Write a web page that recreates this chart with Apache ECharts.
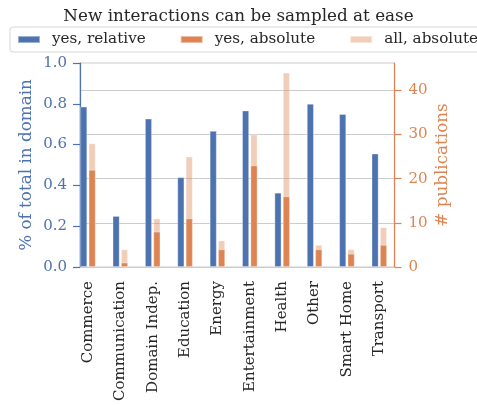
<!DOCTYPE html>
<html>
<head>
<meta charset="utf-8">
<script src="https://cdn.jsdelivr.net/npm/echarts@6/dist/echarts.min.js"></script>
<style>
  html, body { margin: 0; padding: 0; background: #ffffff; }
  #chart { width: 477px; height: 405px; }
</style>
</head>
<body>
<div id="chart"></div>
<script>
// Application domains on the x axis
const categories = ['Commerce', 'Communication', 'Domain Indep.', 'Education', 'Energy',
                    'Entertainment', 'Health', 'Other', 'Smart Home', 'Transport'];
// Share of publications per domain where new interactions can be sampled at ease
const yesRelative = [0.786, 0.25, 0.727, 0.44, 0.667, 0.767, 0.364, 0.8, 0.75, 0.556];
// Publication counts: with the property, and in total
const yesAbsolute = [22, 1, 8, 11, 4, 23, 16, 4, 3, 5];
const allAbsolute = [28, 4, 11, 25, 6, 30, 44, 5, 4, 9];
// Tick labels
const leftTicks = [0, 0.2, 0.4, 0.6, 0.8, 1.0];
const rightTicks = [0, 10, 20, 30, 40];

const BLUE = '#4c72b0';
const ORANGE = '#dd8452';
const LIGHT = 'rgba(221,132,82,0.4)';
const TEXT = '#262626';
const GRID = '#cccccc';
const FONT = 'DejaVu Serif';
const EDGE = 'rgba(255,255,255,0.45)';

const positions = categories.map((_, i) => i);
const pairs = arr => arr.map((v, i) => [positions[i], v]);

// Shared horizontal range for both x axes so the bar slots line up
const X_MIN = -0.245;
const X_MAX = 9.47;

const barBase = { type: 'bar', barWidth: 7, barGap: '20%' };

const chart = echarts.init(document.getElementById('chart'), null, { renderer: 'canvas' });
chart.setOption({
  animation: false,
  backgroundColor: '#ffffff',
  title: {
    text: 'New interactions can be sampled at ease',
    left: 'center',
    top: 3,
    textStyle: { fontFamily: FONT, fontSize: 16.8, fontWeight: 'normal', color: TEXT }
  },
  legend: {
    left: 10,
    top: 27,
    width: 800,
    itemWidth: 22,
    itemHeight: 7,
    itemGap: 34,
    padding: [5, 8, 5, 7],
    borderColor: '#d6d6d6',
    borderWidth: 1,
    borderRadius: 3,
    backgroundColor: '#ffffff',
    icon: 'rect',
    textStyle: { fontFamily: FONT, fontSize: 15.2, color: TEXT, padding: [0, 0, 0, 7] },
    data: ['yes, relative', 'yes, absolute', 'all, absolute']
  },
  grid: {
    left: 80, right: 82.5, top: 63, bottom: 138,
    show: true, borderColor: GRID, borderWidth: 1.2, backgroundColor: 'transparent'
  },
  xAxis: [
    {
      type: 'value',
      min: X_MIN,
      max: X_MAX,
      axisLine: { show: true, onZero: false, lineStyle: { color: GRID, width: 1.2 } },
      axisTick: { show: false },
      splitLine: { show: false },
      axisLabel: {
        customValues: positions,
        rotate: 90,
        margin: 14,
        fontFamily: FONT,
        fontSize: 15,
        color: TEXT,
        formatter: v => categories[Math.round(v)]
      }
    },
    {
      // overlay axis carrying the opaque "yes, absolute" bars in front of the totals
      type: 'value',
      min: X_MIN,
      max: X_MAX,
      show: false
    }
  ],
  yAxis: [
    {
      type: 'value',
      min: 0, max: 1, interval: 0.2,
      name: '% of total in domain',
      nameLocation: 'middle',
      nameGap: 45,
      nameMoveOverlap: false,
      nameTextStyle: { fontFamily: FONT, fontSize: 16.8, color: BLUE },
      axisLine: { show: true, onZero: false, lineStyle: { color: BLUE, width: 1.2 } },
      axisTick: { show: true, length: 7, lineStyle: { color: BLUE, width: 1.2 }, customValues: leftTicks },
      splitLine: { show: false },
      axisLabel: {
        customValues: leftTicks,
        margin: 13,
        fontFamily: FONT, fontSize: 15, color: BLUE,
        formatter: v => v.toFixed(1)
      }
    },
    {
      type: 'value',
      min: 0, max: 46.2, interval: 10,
      position: 'right',
      name: '# publications',
      nameLocation: 'middle',
      nameGap: 40,
      nameMoveOverlap: false,
      nameRotate: 90,
      nameTextStyle: { fontFamily: FONT, fontSize: 16.8, color: ORANGE },
      axisLine: { show: true, onZero: false, lineStyle: { color: ORANGE, width: 1.2 } },
      axisTick: { show: true, length: 7, lineStyle: { color: ORANGE, width: 1.2 }, customValues: rightTicks },
      splitLine: { show: true, lineStyle: { color: GRID, width: 1.2 } },
      axisLabel: {
        customValues: rightTicks,
        margin: 14,
        fontFamily: FONT, fontSize: 15, color: ORANGE
      }
    }
  ],
  series: [
    Object.assign({}, barBase, {
      name: 'yes, relative',
      xAxisIndex: 0, yAxisIndex: 0,
      itemStyle: { color: BLUE, borderColor: EDGE, borderWidth: 0.8 },
      data: pairs(yesRelative)
    }),
    Object.assign({}, barBase, {
      name: 'all, absolute',
      xAxisIndex: 0, yAxisIndex: 1,
      itemStyle: { color: LIGHT, borderColor: EDGE, borderWidth: 0.8 },
      data: pairs(allAbsolute)
    }),
    Object.assign({}, barBase, {
      // empty slot keeps the overlay bars aligned with the orange column
      name: 'slot',
      xAxisIndex: 1, yAxisIndex: 0,
      data: []
    }),
    Object.assign({}, barBase, {
      name: 'yes, absolute',
      xAxisIndex: 1, yAxisIndex: 1,
      itemStyle: { color: ORANGE, borderColor: EDGE, borderWidth: 0.8 },
      data: pairs(yesAbsolute)
    })
  ]
});
</script>
</body>
</html>
